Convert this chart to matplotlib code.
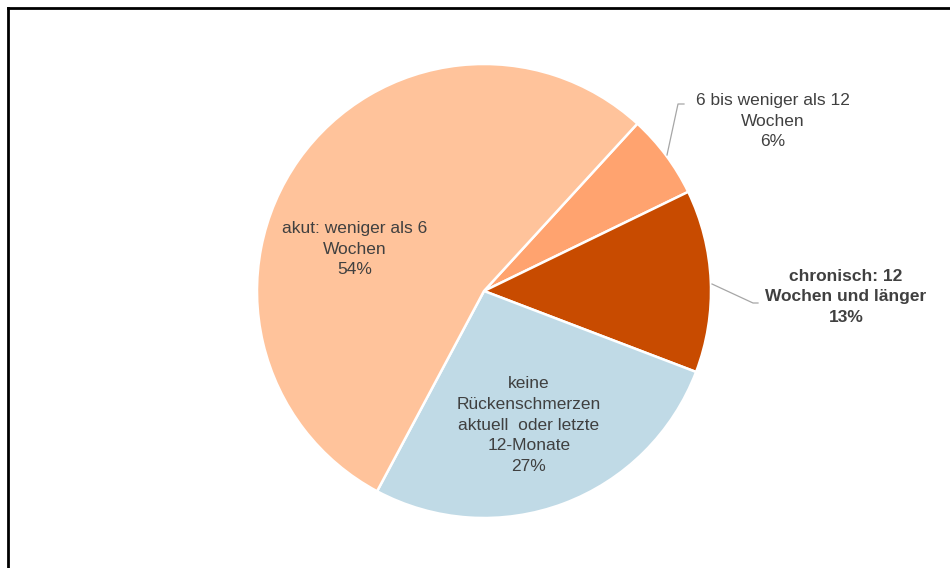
import matplotlib
matplotlib.use("Agg")
from matplotlib import pyplot as plt
from matplotlib.lines import Line2D

plt.rcParams['font.family'] = ['Liberation Sans', 'DejaVu Sans']

# Daten
kategorien = ["6 bis weniger als 12\nWochen",
              "chronisch: 12\nWochen und länger",
              "keine\nRückenschmerzen\naktuell  oder letzte\n12-Monate",
              "akut: weniger als 6\nWochen"]
anteile = [6, 13, 27, 54]
farben = ["#FFA36F", "#C84B00", "#C0DAE6", "#FFC39B"]

W, H = 950, 568
cx, cy, r = 484, 291, 227  # Kreismitte und Radius in Pixeln


def px(x, y):
    # Pixel -> Datenkoordinaten (Radius = 1)
    return (x - cx) / r, (cy - y) / r


fig = plt.figure(figsize=(W / 100, H / 100), dpi=100)
ax = fig.add_axes([0, 0, 1, 1])
ax.pie(anteile, colors=farben, startangle=47.5, counterclock=False,
       wedgeprops=dict(edgecolor="white", linewidth=1.8))
ax.set_xlim(-cx / r, (W - cx) / r)
ax.set_ylim((cy - H) / r, cy / r)
ax.set_aspect("auto")
ax.axis("off")

# Beschriftungen (Textmitte in Pixeln)
pos = [(773, 121), (846, 297), (529, 425), (355, 249)]
fett = [False, True, False, False]
for kat, wert, p, b in zip(kategorien, anteile, pos, fett):
    x, y = px(*p)
    ax.text(x, y, kat + "\n" + str(wert) + "%", ha="center", va="center",
            fontsize=12.5, color="#404040", linespacing=1.48,
            fontweight="bold" if b else "normal")

# Fuehrungslinien
for pts in [[(667, 155), (678, 104), (684, 104)],
            [(712, 284), (753, 303), (758, 303)]]:
    xs = [px(*q)[0] for q in pts]
    ys = [px(*q)[1] for q in pts]
    ax.plot(xs, ys, color="#A6A6A6", linewidth=0.9)

# Rahmen oben und links
fig.add_artist(Line2D([8 / W, 1], [1 - 8 / H, 1 - 8 / H], color="black", linewidth=2))
fig.add_artist(Line2D([8 / W, 8 / W], [0, 1 - 8 / H], color="black", linewidth=2))

fig.savefig("out.png", dpi=100)
